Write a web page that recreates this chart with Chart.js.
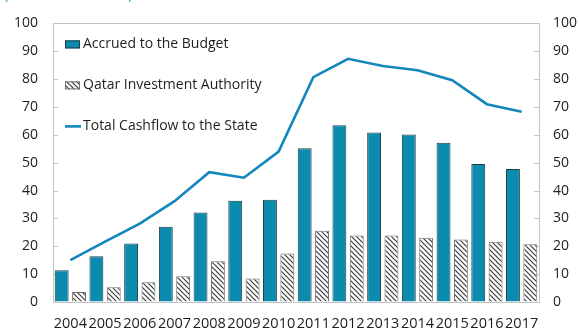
<!DOCTYPE html>
<html>
<head>
<meta charset="utf-8">
<script src="https://cdn.jsdelivr.net/npm/chart.js@4/dist/chart.umd.min.js"></script>
<style>
  html, body { margin: 0; padding: 0; background: #fff; }
  #wrap { position: relative; width: 579px; height: 330px; overflow: hidden; }
  #unit {
    position: absolute; left: 4px; top: -17px;
    font: 15px "Open Sans", sans-serif; color: #2a9fd6;
  }
</style>
</head>
<body>
<div id="wrap">
  <div id="unit">(Billions of dollars)</div>
  <canvas id="chart" width="579" height="330"></canvas>
</div>
<script>
// ==================================================
// DATA
// ==================================================
const years = ["2004", "2005", "2006", "2007", "2008", "2009", "2010",
  "2011", "2012", "2013", "2014", "2015", "2016", "2017"];
const accrued = [11.4, 16.4, 21.0, 27.0, 32.1, 36.3, 36.7, 55.2, 63.4, 60.8, 60.1, 57.2, 49.5, 47.7];
const qia = [3.6, 5.3, 7.1, 9.2, 14.6, 8.4, 17.4, 25.6, 23.9, 23.9, 23.1, 22.4, 21.6, 20.7];
const total = [15.0, 21.7, 28.1, 36.2, 46.6, 44.6, 54.0, 80.7, 87.3, 84.7, 83.2, 79.6, 71.0, 68.3];
const yTicks = [0, 10, 20, 30, 40, 50, 60, 70, 80, 90, 100];

const BAR_BLUE = "#0b8bad";
const LINE_BLUE = "#1386be";
const FRAME = "#c4c4c4";
const FONT = "'Open Sans', sans-serif";

// ==================================================
// HATCH PATTERN
// ==================================================
function makeHatch() {
  const size = 5;
  const c = document.createElement("canvas");
  c.width = size;
  c.height = size;
  const g = c.getContext("2d");
  g.fillStyle = "#fff";
  g.fillRect(0, 0, size, size);
  g.strokeStyle = "#3c3c3c";
  g.lineWidth = 1.2;
  g.beginPath();
  g.moveTo(-1, -1); g.lineTo(size + 1, size + 1);
  g.moveTo(-1, size - 1); g.lineTo(1, size + 1);
  g.moveTo(size - 1, -1); g.lineTo(size + 1, 1);
  g.stroke();
  return g.createPattern(c, "repeat");
}
const ctx = document.getElementById("chart").getContext("2d");
const hatch = makeHatch();

// ==================================================
// PLUGINS
// ==================================================
// box round the plot and short inward ticks on both value axes
const framePlugin = {
  id: "frame",
  beforeDatasetsDraw(chart) {
    const { ctx, chartArea: a } = chart;
    const y = chart.scales.y;
    ctx.save();
    ctx.strokeStyle = FRAME;
    ctx.lineWidth = 1;
    ctx.strokeRect(Math.round(a.left) + 0.5, Math.round(a.top) + 0.5,
      Math.round(a.right - a.left), Math.round(a.bottom - a.top));
    ctx.beginPath();
    yTicks.forEach((v) => {
      const py = Math.round(y.getPixelForValue(v)) + 0.5;
      ctx.moveTo(a.left, py);
      ctx.lineTo(a.left + 5, py);
      ctx.moveTo(a.right - 5, py);
      ctx.lineTo(a.right, py);
    });
    ctx.stroke();
    ctx.restore();
  },
};

// legend stacked in the top-left corner of the plot
const legendPlugin = {
  id: "cornerLegend",
  afterDraw(chart) {
    const { ctx, chartArea: a } = chart;
    const x0 = a.left + 12;
    let yy = a.top + 21;
    ctx.save();
    ctx.font = "14px " + FONT;
    ctx.textBaseline = "middle";
    chart.data.datasets.forEach((ds) => {
      if (ds.type === "line") {
        ctx.strokeStyle = ds.borderColor;
        ctx.lineWidth = ds.borderWidth;
        ctx.beginPath();
        ctx.moveTo(x0, yy);
        ctx.lineTo(x0 + 16, yy);
        ctx.stroke();
      } else {
        ctx.fillStyle = ds.backgroundColor;
        ctx.fillRect(x0, yy - 4, 15, 8);
        ctx.strokeStyle = ds.borderColor;
        ctx.lineWidth = 1;
        ctx.strokeRect(x0 + 0.5, yy - 3.5, 14, 7);
      }
      ctx.fillStyle = "#1e1e1e";
      ctx.fillText(ds.label, x0 + 18, yy);
      yy += 41;
    });
    ctx.restore();
  },
};

// ==================================================
// CHART
// ==================================================
new Chart(ctx, {
  type: "bar",
  data: {
    labels: years,
    datasets: [
      {
        label: "Accrued to the Budget",
        data: accrued,
        backgroundColor: BAR_BLUE,
        borderColor: "#1f3d48",
        borderWidth: 1,
        categoryPercentage: 1,
        barPercentage: 0.8,
        order: 1,
      },
      {
        label: "Qatar Investment Authority",
        data: qia,
        backgroundColor: hatch,
        borderColor: "#6e6e6e",
        borderWidth: 1,
        categoryPercentage: 1,
        barPercentage: 0.8,
        order: 1,
      },
      {
        type: "line",
        label: "Total Cashflow to the State",
        data: total,
        borderColor: LINE_BLUE,
        borderWidth: 2.6,
        pointRadius: 0,
        tension: 0,
        fill: false,
        order: 0,
      },
    ],
  },
  options: {
    responsive: false,
    animation: false,
    layout: { padding: { top: 21, left: 0, right: 0, bottom: 0 } },
    plugins: {
      legend: { display: false },
      tooltip: { enabled: false },
    },
    scales: {
      x: {
        grid: { display: false, drawTicks: false },
        border: { display: false },
        ticks: {
          color: "#1e1e1e",
          font: { family: FONT, size: 14.5 },
          padding: 13,
          maxRotation: 0,
          autoSkip: false,
        },
        afterFit(scale) { scale.height = 28; },
      },
      y: {
        position: "left",
        min: 0,
        max: 100,
        grid: { drawOnChartArea: false, drawTicks: false },
        border: { display: false },
        ticks: {
          stepSize: 10,
          color: "#1e1e1e",
          font: { family: FONT, size: 14 },
          padding: 15,
        },
        afterFit(scale) { scale.width = 53; },
      },
      y1: {
        position: "right",
        min: 0,
        max: 100,
        grid: { drawOnChartArea: false, drawTicks: false },
        border: { display: false },
        ticks: {
          stepSize: 10,
          color: "#1e1e1e",
          font: { family: FONT, size: 14 },
          padding: 14,
        },
        afterFit(scale) { scale.width = 40; },
      },
    },
  },
  plugins: [framePlugin, legendPlugin],
});
</script>
</body>
</html>
